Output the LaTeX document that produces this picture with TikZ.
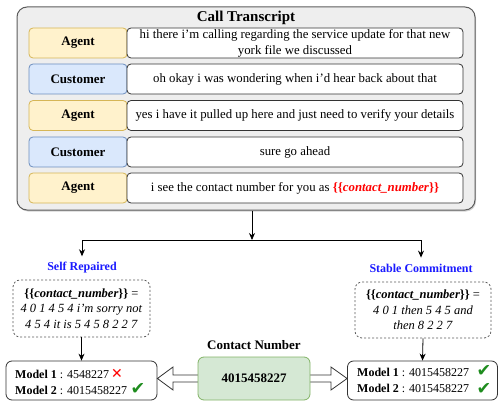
\documentclass[tikz,border=0pt]{standalone}
\usepackage{fontspec}
\setmainfont{Liberation Serif}
\newfontfamily\symfont{DejaVu Sans}
\usetikzlibrary{arrows.meta,calc,shadows}
\definecolor{agentfill}{HTML}{FFF2CC}
\definecolor{agentdraw}{HTML}{D6B656}
\definecolor{custfill}{HTML}{DAE8FC}
\definecolor{custdraw}{HTML}{6C8EBF}
\definecolor{greenfill}{HTML}{D5E8D4}
\definecolor{greendraw}{HTML}{82B366}
\definecolor{outerfill}{HTML}{EEEEEE}
\definecolor{labelblue}{HTML}{1A1AFF}
\definecolor{checkgreen}{HTML}{1E8C1E}
\definecolor{boxdraw}{HTML}{333333}
\begin{document}
\begin{tikzpicture}[x=1pt,y=-1pt,
  bodyfont/.style={font=\fontsize{12.8}{16}\selectfont},
  outerbox/.style={draw=boxdraw!80, line width=1pt, fill=outerfill, rounded corners=10pt,
     drop shadow={shadow xshift=1pt, shadow yshift=-1.5pt, opacity=0.35}},
  titletext/.style={font=\fontsize{15}{17}\selectfont\bfseries},
  lbl/.style={minimum width=98pt, minimum height=30pt, inner sep=0pt, rounded corners=4pt,
     line width=0.8pt, font=\fontsize{13}{15}\selectfont\bfseries},
  agentlbl/.style={lbl, draw=agentdraw, fill=agentfill},
  custlbl/.style={lbl, draw=custdraw, fill=custfill},
  msg/.style={bodyfont, draw=boxdraw, fill=white, line width=0.8pt, rounded corners=4pt,
     minimum width=336pt, minimum height=30pt, inner sep=0pt, align=center},
  conn/.style={draw=black, line width=0.8pt},
  tip/.style={-{Stealth[length=7pt,width=6pt]}},
  bluelbl/.style={font=\fontsize{12}{14}\selectfont\bfseries, text=labelblue, inner sep=0pt},
  dashbox/.style={font=\fontsize{12.5}{15.5}\selectfont, draw=boxdraw!80, dash pattern=on 2pt off 2pt, line width=0.8pt,
     rounded corners=7pt, fill=white, inner sep=0pt, align=center},
  modelbox/.style={draw=boxdraw, line width=0.8pt, rounded corners=6pt, fill=white, inner sep=0pt},
  modeltext/.style={font=\fontsize{12}{14}\selectfont, anchor=west, inner sep=0pt},
  greenbox/.style={draw=greendraw, fill=greenfill, line width=0.8pt, rounded corners=6pt, inner sep=0pt,
     font=\fontsize{13}{15}\selectfont\bfseries},
  blockarr/.style={draw=boxdraw, fill=white, line width=0.8pt, line join=miter},
  checkm/.style={font=\symfont\fontsize{17.5}{17.5}\selectfont, text=checkgreen, inner sep=0pt},
  crossm/.style={font=\symfont\fontsize{14}{14}\selectfont, text=red, inner sep=0pt}
]
\useasboundingbox (0,0) rectangle (498,401);

% outer transcript box
\node[outerbox, minimum width=458pt, minimum height=203pt] (tb) at (246,108.5) {};
\node[titletext] (title) at (246,18) {Call Transcript};

\node[agentlbl] (l1) at (78,43) {Agent};
\node[msg] (m1) at (295,43) {hi there i'm calling regarding the service update for that new\\york file we discussed};
\node[custlbl] (l2) at (78,79) {Customer};
\node[msg] (m2) at (295,79) {oh okay i was wondering when i’d hear back about that};
\node[agentlbl] (l3) at (78,115.5) {Agent};
\node[msg] (m3) at (295,115.5) {yes i have it pulled up here and just need to verify your details};
\node[custlbl] (l4) at (78,152) {Customer};
\node[msg] (m4) at (295,152) {sure go ahead};
\node[agentlbl] (l5) at (78,188) {Agent};
\node[msg] (m5) at (295,188) {i see the contact number for you as \textcolor{red}{\textbf{\{\{\textit{contact\_number}\}\}}}};

% branching connectors
\coordinate (j) at (252,240);
\coordinate (jl) at (82,240);
\coordinate (jr) at (421,240);
\node[bluelbl] (sr) at (82,268) {Self Repaired};
\node[bluelbl] (sc) at (421,268) {Stable Commitment};
\draw[conn, tip] (tb.south -| j) -- (j);
\draw[conn] (jl) -- (jr);
\draw[conn, tip, shorten >=6pt] (jl) -- (sr.north);
\draw[conn, tip, shorten >=6pt] (jr) -- (sc.north);

% dashed explanation boxes
\node[dashbox, minimum width=137pt, minimum height=57pt] (dl) at (81.5,308.5)
  {\textbf{\{\{\textit{contact\_number}\}\}} =\\\textit{4 0 1 4 5 4 i'm sorry not}\\\textit{4 5 4 it is 5 4 5 8 2 2 7}};
\node[dashbox, minimum width=136pt, minimum height=56pt] (dr) at (423,310)
  {\textbf{\{\{\textit{contact\_number}\}\}} =\\\textit{4 0 1 then 5 4 5 and}\\\textit{then 8 2 2 7}};

% model result boxes
\node[modelbox, minimum width=151pt, minimum height=39pt] (ml) at (81.5,380.5) {};
\node[modelbox, minimum width=150pt, minimum height=39pt] (mr) at (422.5,380.5) {};
\draw[conn, tip] (dl.south) -- (ml.north);
\draw[conn, tip] (dr.south) -- (mr.north);

\node[modeltext] (ml1) at (15,374) {\textbf{Model 1} : 4548227};
\node[modeltext] (ml2) at (15,390) {\textbf{Model 2} : 4015458227};
\node[crossm] (x1) at (117,374) {✕};
\node[checkm] (c1) at (138,389) {✔};
\node[modeltext] (mr1) at (357,372) {\textbf{Model 1} : 4015458227};
\node[modeltext] (mr2) at (357,388) {\textbf{Model 2} : 4015458227};
\node[checkm] (c2) at (484,370.5) {✔};
\node[checkm] (c3) at (484,388.5) {✔};

% contact number
\coordinate (gc) at (254,378.5);
\draw[blockarr] ($(gc)+(-56,-3.5)$) -- ++(-25,0) -- ++(0,-8) -- (ml.east |- gc) -- ($(gc)+(-81,11.5)$) -- ++(0,-8) -- ($(gc)+(-56,3.5)$);
\draw[blockarr] ($(gc)+(56,-3.5)$) -- ++(21,0) -- ++(0,-8) -- (mr.west |- gc) -- ($(gc)+(77,11.5)$) -- ++(0,-8) -- ($(gc)+(56,3.5)$);
\node[greenbox, minimum width=112pt, minimum height=43pt] (g) at (gc) {4015458227};
\node[font=\fontsize{13}{15}\selectfont\bfseries, inner sep=0pt] (cn) at (254,345) {Contact Number};
\end{tikzpicture}
\end{document}
